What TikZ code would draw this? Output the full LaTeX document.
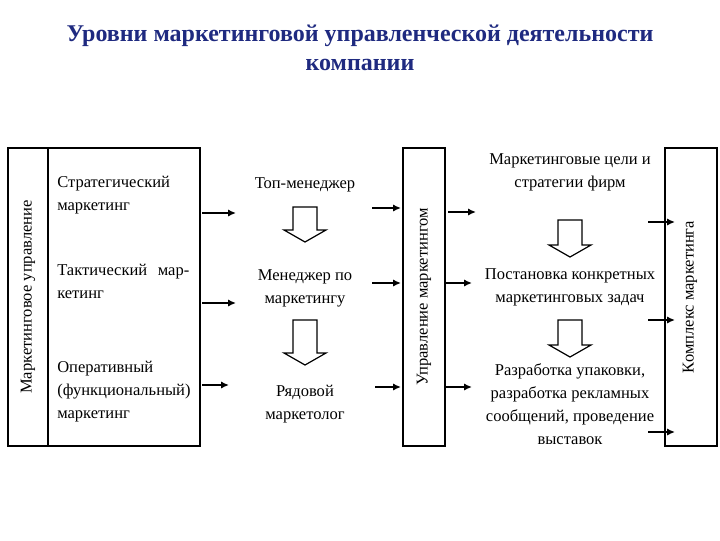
\documentclass[tikz,border=0pt]{standalone}
\usepackage{fontspec}
\setmainfont{Liberation Serif}
\usetikzlibrary{arrows.meta}
\definecolor{titleblue}{HTML}{1F2A80}
\begin{document}
\begin{tikzpicture}[x=0.75pt,y=-0.75pt,
  txt/.style={font=\fontsize{12.4}{17.3}\selectfont, inner sep=0pt},
  box/.style={draw, line width=0.9pt},
  arr/.style={-{Latex[length=6pt,width=5.5pt]}, line width=1.2pt},
  hollow/.pic={\draw[line width=0.9pt, fill=white] (-12,0)--(12,0)--(12,#1)--(21,#1)--(0,#1+12)--(-21,#1)--(-12,#1)--cycle;}]
\useasboundingbox (0,0) rectangle (720,540);
\node[font=\fontsize{18}{22}\selectfont\bfseries, text=titleblue, align=center] (title) at (360,48) {Уровни маркетинговой управленческой деятельности\\компании};
% boxes
\draw[box] (8,148) rectangle (200,446);
\draw[box] (48,148) -- (48,446);
\draw[box] (403,148) rectangle (445,446);
\draw[box] (665,148) rectangle (717,446);
\node[txt, rotate=90] (mu) at (28,297) {Маркетинговое управление};
\node[txt, rotate=90] (um) at (424,297) {Управление маркетингом};
\node[txt, rotate=90] (km) at (690,297) {Комплекс маркетинга};
% left texts
\node[txt, align=left, anchor=north west] (s1) at (57,176) {Стратегический\\маркетинг};
\node[txt, align=left, text width=99pt, anchor=north west] (s2) at (57,264) {Тактический\hfill мар-\\кетинг};
\node[txt, align=left, anchor=north west] (s3) at (57,361) {Оперативный\\(функциональный)\\маркетинг};
% middle
\node[txt, align=center] (m1) at (305,185) {Топ-менеджер};
\node[txt, align=center] (m2) at (305,288) {Менеджер по\\маркетингу};
\node[txt, align=center] (m3) at (305,404) {Рядовой\\маркетолог};
\pic at (305,207) {hollow=23};
\pic at (305,320) {hollow=33};
% right
\node[txt, align=center] (r1) at (570,172) {Маркетинговые цели и\\стратегии фирм};
\node[txt, align=center] (r2) at (570,287) {Постановка конкретных\\маркетинговых задач};
\node[txt, align=center] (r3) at (570,404) {Разработка упаковки,\\разработка рекламных\\сообщений, проведение\\выставок};
\pic at (570,220) {hollow=25};
\pic at (570,320) {hollow=25};
% small arrows
\coordinate (a1s) at (202,213); \coordinate (a1e) at (236,213);
\coordinate (a2s) at (202,303); \coordinate (a2e) at (236,303);
\coordinate (a3s) at (202,385); \coordinate (a3e) at (229,385);
\coordinate (b1s) at (372,208); \coordinate (b1e) at (401,208);
\coordinate (b2s) at (372,283); \coordinate (b2e) at (401,283);
\coordinate (b3s) at (375,387); \coordinate (b3e) at (401,387);
\coordinate (c1s) at (448,212); \coordinate (c1e) at (476,212);
\coordinate (c2s) at (445,283); \coordinate (c2e) at (472,283);
\coordinate (c3s) at (445,387); \coordinate (c3e) at (472,387);
\coordinate (d1s) at (648,222); \coordinate (d1e) at (675,222);
\coordinate (d2s) at (648,320); \coordinate (d2e) at (675,320);
\coordinate (d3s) at (648,432); \coordinate (d3e) at (675,432);
\foreach \p in {a1,a2,a3,b1,b2,b3,c1,c2,c3,d1,d2,d3} \draw[arr] (\p s) -- (\p e);
\end{tikzpicture}
\end{document}
